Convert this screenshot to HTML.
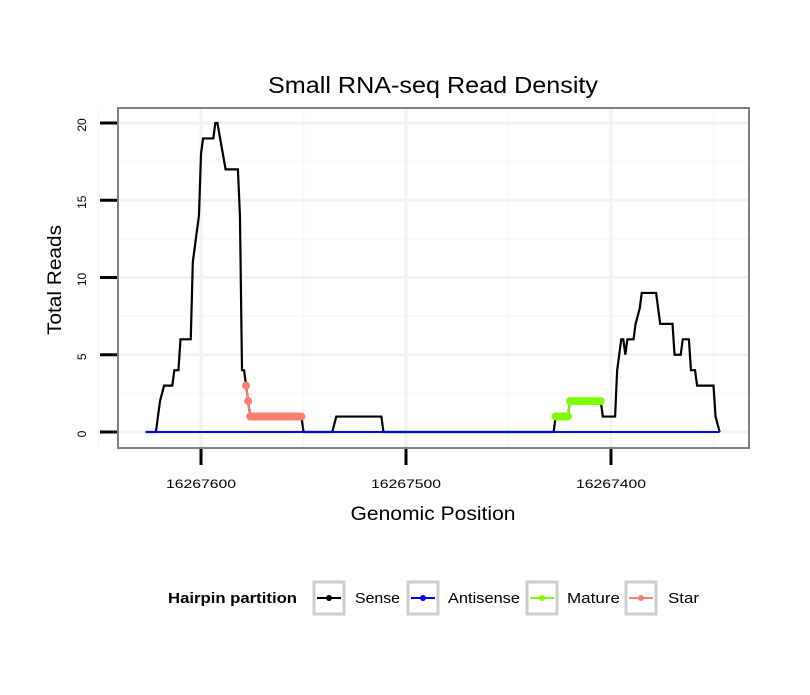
<!DOCTYPE html>
<html><head><meta charset="utf-8"><style>
body{margin:0;background:#fff;font-family:"Liberation Sans",sans-serif;}
svg text{font-family:"Liberation Sans",sans-serif;}
</style></head><body>
<svg id="chart" width="810" height="690" xmlns="http://www.w3.org/2000/svg">
<rect width="810" height="690" fill="#fff"/>
<text x="433" y="93" font-size="23" text-anchor="middle" textLength="330" lengthAdjust="spacingAndGlyphs">Small RNA-seq Read Density</text>
<g id="grid"></g>
<g id="series"></g>
<rect x="118" y="108" width="631" height="340" fill="none" stroke="#808080" stroke-width="2"/>
<g id="axes"></g>
<text x="433" y="520" font-size="19" text-anchor="middle" textLength="165" lengthAdjust="spacingAndGlyphs">Genomic Position</text>
<text transform="translate(61,280) rotate(-90)" font-size="19" text-anchor="middle" textLength="110" lengthAdjust="spacingAndGlyphs">Total Reads</text>
<g>
<text x="168" y="603" font-size="15" font-weight="bold" textLength="129" lengthAdjust="spacingAndGlyphs">Hairpin partition</text>
<g><rect x="314" y="582" width="30" height="32" fill="#fff" stroke="#ccc" stroke-width="3"/><line x1="317" y1="598" x2="341" y2="598" stroke="#000" stroke-width="2"/><circle cx="329" cy="598" r="3" fill="#000"/><text x="355" y="603" font-size="15" textLength="45" lengthAdjust="spacingAndGlyphs">Sense</text></g>
<g><rect x="408" y="582" width="30" height="32" fill="#fff" stroke="#ccc" stroke-width="3"/><line x1="411" y1="598" x2="435" y2="598" stroke="#0000ff" stroke-width="2"/><circle cx="423" cy="598" r="3" fill="#0000ff"/><text x="448" y="603" font-size="15" textLength="72" lengthAdjust="spacingAndGlyphs">Antisense</text></g>
<g><rect x="527" y="582" width="30" height="32" fill="#fff" stroke="#ccc" stroke-width="3"/><line x1="530" y1="598" x2="554" y2="598" stroke="#7fff00" stroke-width="2"/><circle cx="542" cy="598" r="3" fill="#7fff00"/><text x="567" y="603" font-size="15" textLength="53" lengthAdjust="spacingAndGlyphs">Mature</text></g>
<g><rect x="626" y="582" width="30" height="32" fill="#fff" stroke="#ccc" stroke-width="3"/><line x1="629" y1="598" x2="653" y2="598" stroke="#fa8072" stroke-width="2"/><circle cx="641" cy="598" r="3" fill="#fa8072"/><text x="668" y="603" font-size="15" textLength="31" lengthAdjust="spacingAndGlyphs">Star</text></g>
</g>
</svg>
<script>
const sensePos=[16267627,16267622,16267620,16267618,16267614,16267613,16267611,16267610,16267606,16267605,16267604,16267602,16267601,16267600,16267599,16267594,16267593,16267592,16267588,16267582,16267581,16267580,16267579,16267578,16267577,16267576,16267551,16267550,16267536,16267534,16267512,16267511,16267428,16267427,16267421,16267420,16267405,16267404,16267398,16267397,16267395,16267394,16267393,16267392,16267389,16267388,16267386,16267385,16267378,16267377,16267376,16267370,16267369,16267366,16267365,16267362,16267361,16267359,16267358,16267350,16267349,16267347];
const senseVal=[0,0,2,3,3,4,4,6,6,6,11,13,14,18,19,19,20,20,17,17,14,4,4,3,2,1,1,0,0,1,1,0,0,1,1,2,2,1,1,4,6,6,5,6,6,7,8,9,9,8,7,7,5,5,6,6,4,4,3,3,1,0];
const antisenseRange=[16267627,16267347];
const antisenseVal=[0,0];
const starPos=[16267578,16267577,16267576,16267575,16267574,16267573,16267572,16267571,16267570,16267569,16267568,16267567,16267566,16267565,16267564,16267563,16267562,16267561,16267560,16267559,16267558,16267557,16267556,16267555,16267554,16267553,16267552,16267551];
const starVal=[3,2,1,1,1,1,1,1,1,1,1,1,1,1,1,1,1,1,1,1,1,1,1,1,1,1,1,1];
const maturePos=[16267427,16267426,16267425,16267424,16267423,16267422,16267421,16267420,16267419,16267418,16267417,16267416,16267415,16267414,16267413,16267412,16267411,16267410,16267409,16267408,16267407,16267406,16267405];
const matureVal=[1,1,1,1,1,1,1,2,2,2,2,2,2,2,2,2,2,2,2,2,2,2,2];
const xTicks=[16267600,16267500,16267400];
const yTicks=[0,5,10,15,20];
const X=g=>201+(16267600-g)*2.05;
const Y=v=>432-v*15.45;
const NS="http://www.w3.org/2000/svg";
function mk(tag,attrs,parent){const e=document.createElementNS(NS,tag);for(const k in attrs)e.setAttribute(k,attrs[k]);parent.appendChild(e);return e;}
const grid=document.getElementById('grid'),axes=document.getElementById('axes'),ser=document.getElementById('series');
mk('rect',{x:118,y:108,width:631,height:340,fill:'#fff'},grid);
[2.5,7.5,12.5,17.5].forEach(v=>{const l=mk('line',{x1:118,x2:749,y1:Y(v),y2:Y(v),stroke:'#f7f7f7','stroke-width':1.5},grid);});
[16267650,16267550,16267450,16267350].forEach(g=>{const l=mk('line',{x1:X(g),x2:X(g),y1:108,y2:448,stroke:'#f7f7f7','stroke-width':1.5},grid);});
yTicks.forEach(v=>{const l=mk('line',{x1:118,x2:749,y1:Y(v),y2:Y(v),stroke:'#f2f2f2','stroke-width':3},grid);
const t=mk('line',{x1:100,x2:117,y1:Y(v),y2:Y(v),stroke:'#000','stroke-width':3},axes);
const tx=mk('text',{transform:`translate(86,${Y(v)+2}) rotate(-90)`,'font-size':12,'text-anchor':'middle'},axes);tx.textContent=v;});
xTicks.forEach(g=>{const l=mk('line',{x1:X(g),x2:X(g),y1:108,y2:448,stroke:'#f2f2f2','stroke-width':3},grid);
const t=mk('line',{x1:X(g),x2:X(g),y1:449,y2:465,stroke:'#000','stroke-width':3},axes);
const tx=mk('text',{x:X(g),y:488,'font-size':12,'text-anchor':'middle',textLength:70,lengthAdjust:'spacingAndGlyphs'},axes);tx.textContent=g;});
const sp=mk('polyline',{points:sensePos.map((p,i)=>X(p)+','+Y(senseVal[i])).join(' '),fill:'none',stroke:'#000','stroke-width':2.2},ser);

const ap=mk('polyline',{points:antisenseRange.map((p,i)=>X(p)+','+Y(antisenseVal[i])).join(' '),fill:'none',stroke:'#0000ff','stroke-width':2},ser);

function pts(pos,val,col,name){mk('polyline',{points:pos.map((p,i)=>X(p)+','+Y(val[i])).join(' '),fill:'none',stroke:col,'stroke-width':2},ser);
pos.forEach((p,i)=>{const c=mk('circle',{cx:X(p),cy:Y(val[i]),r:4,fill:col},ser);});}
pts(starPos,starVal,'#fa8072','star-point');
pts(maturePos,matureVal,'#7fff00','mature-point');
</script>
</body></html>
